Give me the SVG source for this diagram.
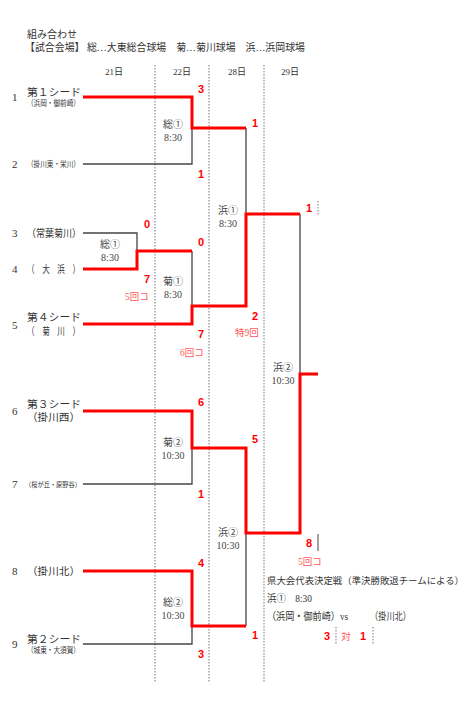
<svg xmlns="http://www.w3.org/2000/svg" width="475" height="708" viewBox="0 0 475 708">
<style>
text{font-family:"Liberation Serif","Noto Sans CJK JP",serif;fill:#333}
.t{font-size:10.5px}
.s{font-size:8px}
.xs{font-size:6.5px}
.n{font-size:11px}
.v{font-size:10px;fill:#444;text-anchor:middle}
.d{font-size:9px;text-anchor:middle}
.sc{font-family:"Liberation Sans",sans-serif;font-weight:bold;font-size:11px;fill:#f00;text-anchor:middle}
.nt{font-size:9.5px;fill:#f55;text-anchor:middle}
.g{fill:none;stroke:#444;stroke-width:1.3}
.r{fill:none;stroke:#f00;stroke-width:3}
.dot{fill:none;stroke:#777;stroke-width:1;stroke-dasharray:1.5 1.5}
</style>
<rect width="475" height="708" fill="#fff"/>
<g id="header">
<text x="27" y="38" class="t" textLength="50" lengthAdjust="spacingAndGlyphs">組み合わせ</text>
<text x="25" y="51" class="t" textLength="280" lengthAdjust="spacingAndGlyphs">【試合会場】 総…大東総合球場　菊…菊川球場　浜…浜岡球場</text>
<text x="114" y="75" class="d">21日</text>
<text x="182" y="75" class="d">22日</text>
<text x="237" y="75" class="d">28日</text>
<text x="290" y="75" class="d">29日</text>
</g>
<g id="grid">
<line class="dot" x1="155" y1="65" x2="155" y2="682"/>
<line class="dot" x1="209" y1="65" x2="209" y2="682"/>
<line class="dot" x1="264" y1="65" x2="264" y2="682"/>
</g>
<g id="teams">
<g id="team1"><text x="12" y="101" class="n">1</text><text x="27" y="96" class="t" textLength="54" lengthAdjust="spacingAndGlyphs">第１シード</text><text x="27" y="106" class="s" textLength="53" lengthAdjust="spacingAndGlyphs">（浜岡・御前崎）</text></g>
<g id="team2"><text x="12" y="168" class="n">2</text><text x="27" y="167" class="s" textLength="53" lengthAdjust="spacingAndGlyphs">（掛川東・栄川）</text></g>
<g id="team3"><text x="12" y="237" class="n">3</text><text x="27" y="237" class="t" textLength="54" lengthAdjust="spacingAndGlyphs">（常葉菊川）</text></g>
<g id="team4"><text x="12" y="273" class="n">4</text><text x="27" y="273" class="t" textLength="53" lengthAdjust="spacingAndGlyphs">（　大　浜　）</text></g>
<g id="team5"><text x="12" y="329" class="n">5</text><text x="27" y="321" class="t" textLength="54" lengthAdjust="spacingAndGlyphs">第４シード</text><text x="27" y="335" class="t" textLength="53" lengthAdjust="spacingAndGlyphs">（　菊　川　）</text></g>
<g id="team6"><text x="12" y="415" class="n">6</text><text x="27" y="408" class="t" textLength="54" lengthAdjust="spacingAndGlyphs">第３シード</text><text x="27" y="421" class="t" textLength="53" lengthAdjust="spacingAndGlyphs">（掛川西）</text></g>
<g id="team7"><text x="12" y="488" class="n">7</text><text x="25" y="487" class="xs" textLength="56" lengthAdjust="spacingAndGlyphs">（桜が丘・原野谷）</text></g>
<g id="team8"><text x="12" y="575" class="n">8</text><text x="27" y="575" class="t" textLength="53" lengthAdjust="spacingAndGlyphs">（掛川北）</text></g>
<g id="team9"><text x="12" y="648" class="n">9</text><text x="27" y="643" class="t" textLength="54" lengthAdjust="spacingAndGlyphs">第２シード</text><text x="27" y="653" class="s" textLength="53" lengthAdjust="spacingAndGlyphs">（城東・大須賀）</text></g>
</g>
<g id="connectors">
<polyline class="g" points="83,233 137,233 137,251"/>
<polyline class="g" points="83,164 192,164 192,128"/>
<polyline class="g" points="192,251 192,306"/>
<polyline class="g" points="246,128 246,214"/>
<polyline class="g" points="300,214 300,374"/>
<polyline class="g" points="83,484 192,484 192,448"/>
<polyline class="g" points="83,644 192,644 192,626"/>
<polyline class="g" points="246,533 246,626"/>
<polyline class="r" points="83,97 192,97 192,128 246,128"/>
<polyline class="r" points="83,269 137,269 137,251 192,251"/>
<polyline class="r" points="83,324 192,324 192,306 246,306 246,214 300,214"/>
<polyline class="r" points="83,411 192,411 192,448 246,448 246,533 300,533 300,374 318,374"/>
<polyline class="r" points="83,571 192,571 192,626 246,626"/>
<line class="dot" x1="318" y1="201" x2="318" y2="216"/>
<line class="g" x1="318" y1="534" x2="318" y2="551" style="stroke-width:1"/>
</g>
<g id="venues">
<text x="173" y="128" class="v">総①</text><text x="173" y="141" class="v">8:30</text>
<text x="110" y="248" class="v">総①</text><text x="110" y="261" class="v">8:30</text>
<text x="173" y="285" class="v">菊①</text><text x="173" y="298" class="v">8:30</text>
<text x="228" y="214" class="v">浜①</text><text x="228" y="227" class="v">8:30</text>
<text x="173" y="446" class="v">菊②</text><text x="173" y="459" class="v">10:30</text>
<text x="283" y="371" class="v">浜②</text><text x="283" y="384" class="v">10:30</text>
<text x="228" y="536" class="v">浜②</text><text x="228" y="549" class="v">10:30</text>
<text x="173" y="606" class="v">総②</text><text x="173" y="619" class="v">10:30</text>
</g>
<g id="scores">
<text x="201" y="93" class="sc">3</text>
<text x="201" y="178" class="sc">1</text>
<text x="255" y="127" class="sc">1</text>
<text x="147" y="228" class="sc">0</text>
<text x="147" y="283" class="sc">7</text>
<text x="137" y="300" class="nt">5回コ</text>
<text x="201" y="246" class="sc">0</text>
<text x="201" y="338" class="sc">7</text>
<text x="192" y="356" class="nt">6回コ</text>
<text x="309" y="212" class="sc">1</text>
<text x="255" y="320" class="sc">2</text>
<text x="247" y="336" class="nt">特9回</text>
<text x="201" y="406" class="sc">6</text>
<text x="255" y="443" class="sc">5</text>
<text x="201" y="498" class="sc">1</text>
<text x="309" y="547" class="sc">8</text>
<text x="310" y="565" class="nt">5回コ</text>
<text x="201" y="567" class="sc">4</text>
<text x="201" y="658" class="sc">3</text>
<text x="255" y="639" class="sc">1</text>
</g>
<g id="final-note">
<text x="267" y="584" style="font-size:9.2px" textLength="197" lengthAdjust="spacingAndGlyphs">県大会代表決定戦（準決勝敗退チームによる）</text>
<text x="267" y="602" class="t" textLength="45" lengthAdjust="spacingAndGlyphs">浜①　8:30</text>
<text x="267" y="620" class="t" textLength="81" lengthAdjust="spacingAndGlyphs">（浜岡・御前崎）vs</text>
<text x="370" y="620" class="t" textLength="41" lengthAdjust="spacingAndGlyphs">（掛川北）</text>
<text x="327" y="640" class="sc">3</text>
<line class="dot" x1="336" y1="627" x2="336" y2="644"/>
<text x="346" y="640" class="nt">対</text>
<text x="363" y="640" class="sc">1</text>
<line class="dot" x1="373" y1="627" x2="373" y2="644"/>
</g>
</svg>
